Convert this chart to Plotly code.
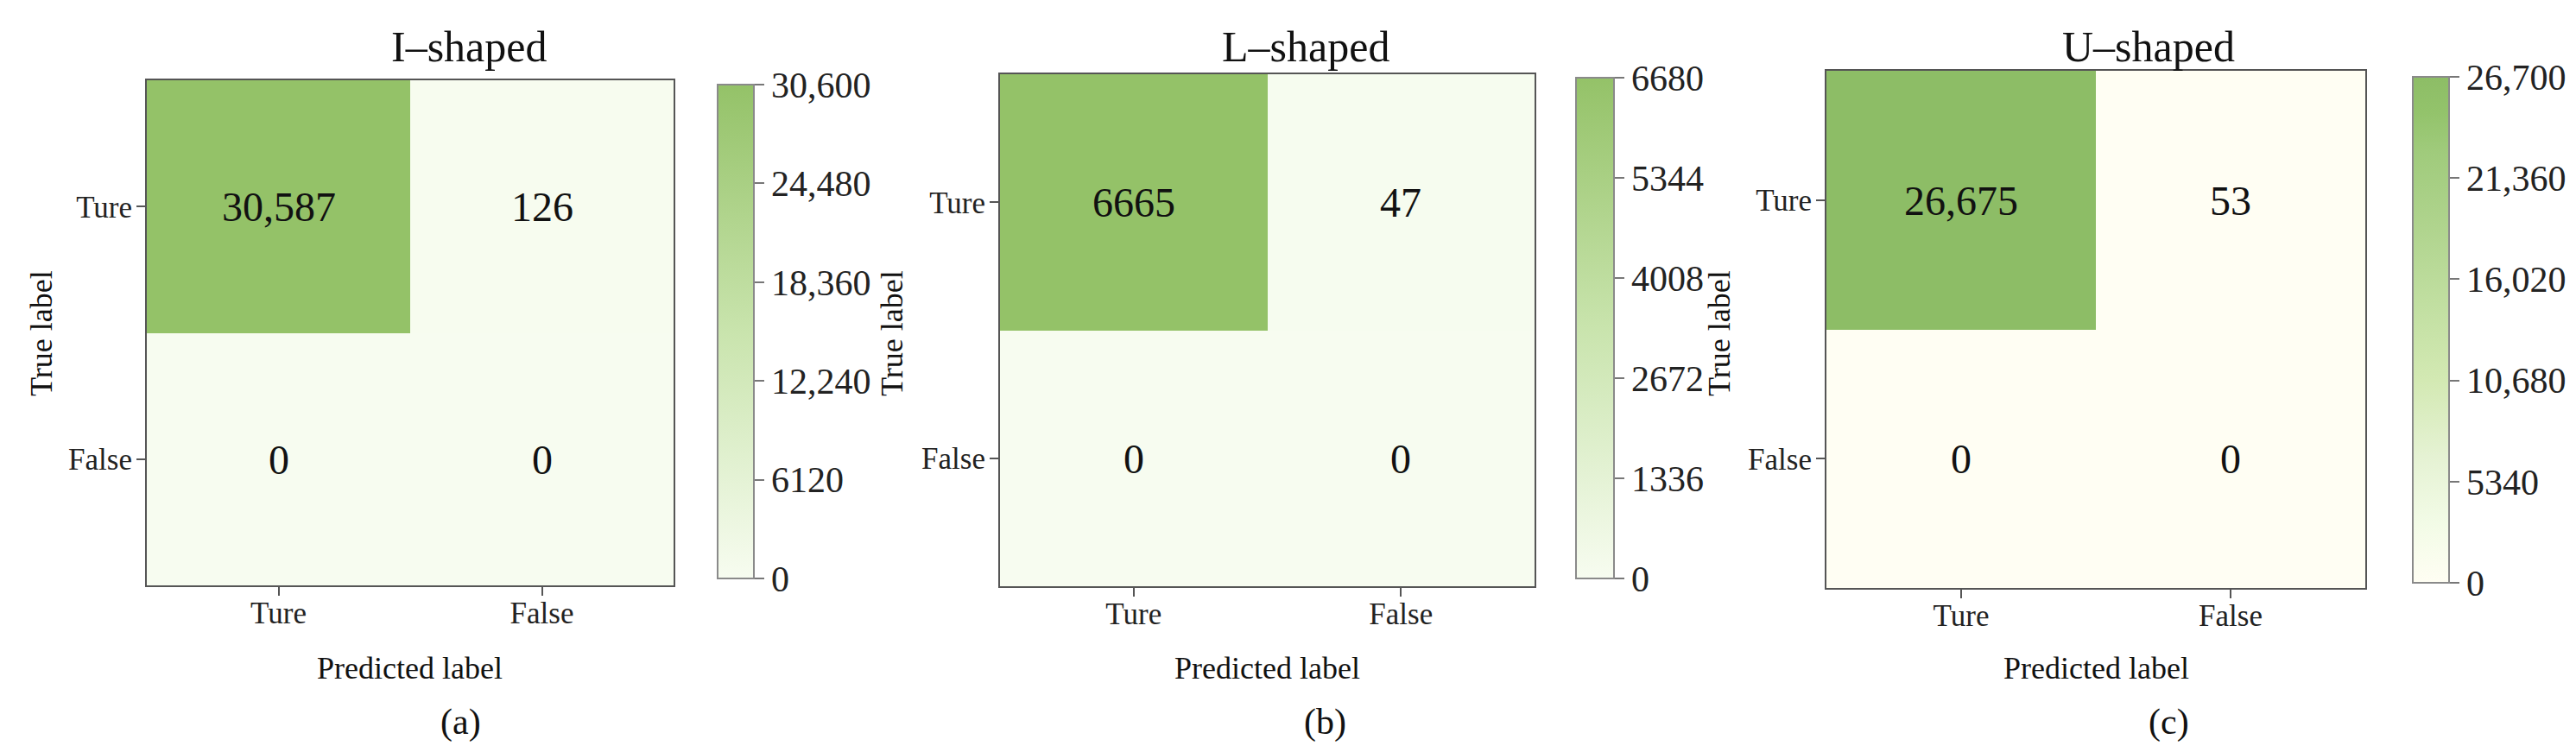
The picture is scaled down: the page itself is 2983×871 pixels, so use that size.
import plotly.graph_objects as go

W, H = 2983, 871
FONT = "Liberation Serif"

labels = ["Ture", "False"]
titles = ["I–shaped", "L–shaped", "U–shaped"]
panel_tags = ["(a)", "(b)", "(c)"]

i_shaped = [[30587, 126], [0, 0]]
l_shaped = [[6665, 47], [0, 0]]
u_shaped = [[26675, 53], [0, 0]]

i_ticks = [0, 6120, 12240, 18360, 24480, 30600]
l_ticks = [0, 1336, 2672, 4008, 5344, 6680]
u_ticks = [0, 5340, 10680, 16020, 21360, 26700]

green_scale = [[0.0, "#f7fcf0"], [0.5, "#c9e4ad"], [1.0, "#94c268"]]
cream_scale = [[0.0, "#fffef3"], [0.12, "#f2fbe6"], [0.25, "#e5f2d3"],
               [0.4, "#d3e9b3"], [0.55, "#c1dfa1"], [0.7, "#b0d48e"],
               [0.85, "#a0cb7c"], [0.93, "#93c36b"], [1.0, "#8dbd66"]]


def fmt(v):
    return f"{v:,}" if v >= 10000 else str(v)


# pixel boxes: plot (x0, x1, y0, y1), colorbar (x0, x1, y0, y1)
panels = [
    dict(z=i_shaped, ticks=i_ticks, scale=green_scale,
         plot=(162, 772, 85, 670), cbar=(813, 855, 80, 672),
         title_x=535, tag_x=525, ylab_x=40),
    dict(z=l_shaped, ticks=l_ticks, scale=green_scale,
         plot=(1150, 1769, 78, 671), cbar=(1807, 1851, 72, 672),
         title_x=1504, tag_x=1526, ylab_x=1025),
    dict(z=u_shaped, ticks=u_ticks, scale=cream_scale,
         plot=(2107, 2731, 74, 673), cbar=(2776, 2818, 71, 677),
         title_x=2480, tag_x=2503, ylab_x=1983),
]

fig = go.Figure()
annotations = []
layout = {}

for k, p in enumerate(panels):
    n = "" if k == 0 else str(k + 1)
    x0, x1, y0, y1 = p["plot"]
    cx0, cx1, cy0, cy1 = p["cbar"]
    text = [[fmt(v) for v in row] for row in p["z"]]

    fig.add_trace(go.Heatmap(
        z=p["z"], x=labels, y=labels, text=text, texttemplate="%{text}",
        textfont=dict(family=FONT, size=48, color="#111"),
        coloraxis="coloraxis" + n, xaxis="x" + n, yaxis="y" + n,
        hoverinfo="skip"))

    layout["coloraxis" + n] = dict(
        colorscale=p["scale"], cmin=p["ticks"][0], cmax=p["ticks"][-1],
        colorbar=dict(
            x=cx0 / W, xanchor="left", xref="paper",
            y=1 - (cy0 + cy1) / 2 / H, yanchor="middle",
            len=cy1 - cy0, lenmode="pixels",
            thickness=cx1 - cx0, thicknessmode="pixels",
            outlinewidth=2, outlinecolor="#8a8a8a",
            tickvals=p["ticks"], ticktext=[fmt(t) for t in p["ticks"]],
            ticks="outside", ticklen=11, tickwidth=2, tickcolor="#777",
            tickfont=dict(family=FONT, size=42, color="#222")))

    axis_common = dict(showline=True, mirror=True, linecolor="#555", linewidth=2,
                       ticks="outside", ticklen=10, tickwidth=2, tickcolor="#555",
                       showgrid=False, zeroline=False,
                       tickfont=dict(family=FONT, size=35, color="#222"))
    layout["xaxis" + n] = dict(domain=[x0 / W, x1 / W], anchor="y" + n,
                               ticklabelstandoff=-10, **axis_common)
    layout["yaxis" + n] = dict(domain=[1 - y1 / H, 1 - y0 / H], anchor="x" + n,
                               autorange="reversed", ticklabelstandoff=-2,
                               **axis_common)

    xc = (x0 + x1) / 2
    annotations += [
        dict(text=titles[k], x=p["title_x"] / W, y=1 - 46 / H,
             font=dict(size=50)),
        dict(text="Predicted label", x=xc / W, y=1 - 766 / H,
             font=dict(size=36)),
        dict(text=panel_tags[k], x=p["tag_x"] / W, y=1 - 828 / H,
             font=dict(size=42)),
        dict(text="True label", x=p["ylab_x"] / W, y=1 - 378 / H,
             textangle=-90, font=dict(size=36)),
    ]

for a in annotations:
    a.update(xref="paper", yref="paper", showarrow=False,
             xanchor="center", yanchor="middle")
    a["font"].update(family=FONT, color="#111")

fig.update_layout(
    width=W, height=H,
    margin=dict(l=0, r=0, t=0, b=0),
    paper_bgcolor="white", plot_bgcolor="white",
    annotations=annotations,
    **layout)

fig.write_html("out.html")
